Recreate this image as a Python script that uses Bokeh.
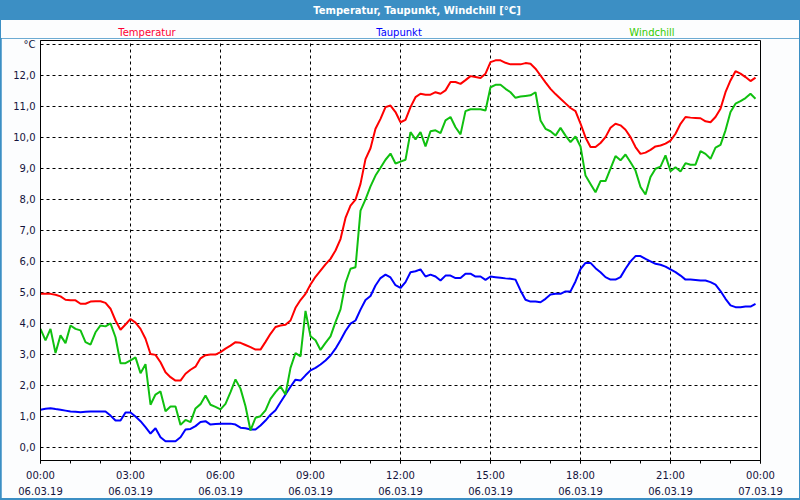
from bokeh.plotting import figure
from bokeh.models import Range1d, FixedTicker, ColumnDataSource, LinearAxis, Div
from bokeh.layouts import column
from bokeh.embed import file_html
from bokeh.resources import INLINE

# ---- data (10-minute samples, 06.03.19 00:00 .. 23:50) ----
minutes = list(range(0, 1440, 10))

temperatur = [
    4.95, 4.95, 4.95, 4.92, 4.87, 4.76, 4.74, 4.74, 4.63, 4.63, 4.70, 4.71,
    4.71, 4.66, 4.47, 4.09, 3.79, 3.96, 4.14, 4.02, 3.82, 3.50, 3.01, 2.98,
    2.74, 2.42, 2.26, 2.15, 2.15, 2.37, 2.50, 2.60, 2.87, 2.97, 2.99, 2.99,
    3.07, 3.18, 3.28, 3.39, 3.37, 3.30, 3.23, 3.15, 3.15, 3.40, 3.66, 3.88,
    3.93, 3.95, 4.09, 4.50, 4.75, 4.95, 5.25, 5.50, 5.70, 5.90, 6.08, 6.35,
    6.72, 7.40, 7.80, 7.99, 8.50, 9.30, 9.65, 10.28, 10.60, 10.98, 11.03, 10.82,
    10.49, 10.57, 10.98, 11.30, 11.41, 11.38, 11.38, 11.46, 11.41, 11.52, 11.79, 11.79,
    11.73, 11.85, 11.98, 11.95, 11.92, 12.06, 12.43, 12.49, 12.49, 12.41, 12.36, 12.36,
    12.36, 12.40, 12.38, 12.22, 12.00, 11.78, 11.57, 11.40, 11.25, 11.10, 10.95, 10.85,
    10.45, 10.00, 9.69, 9.69, 9.82, 10.01, 10.31, 10.44, 10.39, 10.25, 10.01, 9.69,
    9.47, 9.51, 9.60, 9.71, 9.74, 9.80, 9.90, 10.12, 10.44, 10.66, 10.64, 10.63,
    10.62, 10.52, 10.49, 10.66, 10.93, 11.46, 11.84, 12.14, 12.06, 11.95, 11.82, 11.93,
]

taupunkt = [
    1.21, 1.24, 1.26, 1.23, 1.21, 1.18, 1.15, 1.14, 1.13, 1.14, 1.15, 1.15,
    1.15, 1.15, 1.02, 0.86, 0.86, 1.12, 1.12, 0.99, 0.84, 0.65, 0.44, 0.61,
    0.32, 0.19, 0.19, 0.19, 0.32, 0.57, 0.59, 0.68, 0.81, 0.84, 0.73, 0.75,
    0.76, 0.76, 0.76, 0.73, 0.63, 0.61, 0.57, 0.57, 0.70, 0.86, 1.05, 1.19,
    1.45, 1.70, 1.95, 2.18, 2.15, 2.32, 2.48, 2.56, 2.67, 2.80, 2.96, 3.18,
    3.45, 3.75, 3.99, 4.09, 4.44, 4.75, 4.88, 5.22, 5.46, 5.57, 5.48, 5.23,
    5.14, 5.33, 5.65, 5.68, 5.74, 5.51, 5.57, 5.51, 5.38, 5.54, 5.54, 5.46,
    5.46, 5.60, 5.60, 5.51, 5.51, 5.40, 5.51, 5.49, 5.47, 5.45, 5.44, 5.41,
    5.06, 4.76, 4.70, 4.70, 4.68, 4.79, 4.93, 4.95, 4.95, 5.03, 5.03, 5.35,
    5.75, 5.95, 5.95, 5.78, 5.65, 5.49, 5.41, 5.41, 5.49, 5.76, 6.00, 6.17,
    6.17, 6.08, 6.00, 5.92, 5.89, 5.83, 5.74, 5.65, 5.54, 5.41, 5.41, 5.40,
    5.38, 5.38, 5.33, 5.25, 5.04, 4.79, 4.58, 4.52, 4.52, 4.54, 4.54, 4.63,
]

windchill = [
    3.82, 3.45, 3.82, 3.04, 3.61, 3.36, 3.93, 3.82, 3.77, 3.39, 3.31, 3.71,
    3.93, 3.90, 4.00, 3.55, 2.71, 2.71, 2.80, 2.90, 2.39, 2.68, 1.37, 1.70,
    1.80, 1.16, 1.31, 1.31, 0.72, 0.88, 0.81, 1.25, 1.39, 1.67, 1.37, 1.30,
    1.22, 1.40, 1.78, 2.19, 1.89, 1.32, 0.54, 0.95, 1.00, 1.19, 1.56, 1.78,
    1.96, 1.70, 2.56, 3.04, 2.93, 4.40, 3.58, 3.45, 3.14, 3.37, 3.58, 4.04,
    4.45, 5.30, 5.76, 5.81, 7.64, 8.00, 8.42, 8.77, 9.02, 9.28, 9.48, 9.16,
    9.22, 9.28, 10.17, 9.94, 10.17, 9.71, 10.20, 10.23, 10.14, 10.55, 10.66, 10.33,
    10.10, 10.85, 10.91, 10.91, 10.91, 10.87, 11.62, 11.70, 11.70, 11.57, 11.46, 11.28,
    11.32, 11.34, 11.36, 11.46, 10.55, 10.28, 10.20, 10.06, 10.31, 10.06, 9.85, 10.03,
    9.71, 8.77, 8.50, 8.23, 8.59, 8.59, 8.99, 9.40, 9.26, 9.45, 9.20, 8.93,
    8.40, 8.16, 8.72, 8.99, 9.06, 9.42, 8.91, 9.04, 8.90, 9.17, 9.12, 9.12,
    9.56, 9.47, 9.31, 9.67, 9.76, 10.23, 10.82, 11.09, 11.17, 11.27, 11.41, 11.25,
]

x_ticks = [0, 180, 360, 540, 720, 900, 1080, 1260, 1440]
x_minor_ticks = list(range(0, 1441, 60))
x_time_labels = ["00:00", "03:00", "06:00", "09:00", "12:00", "15:00", "18:00", "21:00", "00:00"]
x_date_labels = ["06.03.19"] * 8 + ["07.03.19"]
y_ticks = list(range(0, 14))
y_tick_labels = ["0,0", "1,0", "2,0", "3,0", "4,0", "5,0", "6,0", "7,0",
                 "8,0", "9,0", "10,0", "11,0", "12,0", "°C"]
series_names = ["Temperatur", "Taupunkt", "Windchill"]
title_text = "Temperatur, Taupunkt, Windchill [°C]"

# ---- style ----
BG = "#fcfdfe"
BAR = "#3c8fc4"
FONT = "DejaVu Sans"
LABEL_COLOR = "#14143c"
LINE_COLORS = ["#ff0000", "#0000ff", "#10c010"]
NAME_COLORS = ["#ff0033", "#0000ff", "#33cc00"]
NAME_CENTERS = [146, 398, 651]   # horizontal centres of the series names (px)
TITLE_CENTER = 416

# ---- header: title bar + coloured series names ----
parts = [
    f'<div style="position:relative;width:798px;height:38px;overflow:visible;background:{BG};'
    f"font-family:'{FONT}',sans-serif;font-size:10px;\">",
    f'<div style="position:absolute;left:-1px;top:0px;width:800px;height:20px;background:{BAR};"></div>',
    f'<div style="position:absolute;left:{TITLE_CENTER - 200}px;top:0.5px;width:400px;height:20px;'
    f'line-height:20px;text-align:center;color:white;font-weight:bold;white-space:nowrap;">'
    f'{title_text}</div>',
]
for cx, name, col in zip(NAME_CENTERS, series_names, NAME_COLORS):
    parts.append(
        f'<div style="position:absolute;left:{cx - 60}px;top:26.5px;width:120px;line-height:12px;'
        f'text-align:center;color:{col};white-space:nowrap;">{name}</div>')
parts.append('</div>')
header = Div(text="".join(parts), width=798, height=38, margin=(0, 1, 0, 1))

# ---- main chart ----
src = ColumnDataSource(data=dict(m=minutes, t=temperatur, d=taupunkt, w=windchill))

p = figure(width=798, height=460, x_range=Range1d(0, 1440), y_range=Range1d(-0.43, 13.13),
           toolbar_location=None, output_backend="svg",
           min_border_left=39, min_border_right=39, min_border_top=2, min_border_bottom=38,
           margin=(0, 1, 2, 1))
p.background_fill_color = "white"
p.border_fill_color = BG
p.outline_line_color = "black"
p.outline_line_width = 1

# x axis (times)
xa = p.xaxis[0]
xa.ticker = FixedTicker(ticks=x_ticks, minor_ticks=x_minor_ticks)
xa.major_label_overrides = {t: s for t, s in zip(x_ticks, x_time_labels)}
xa.major_tick_out = 3
xa.major_tick_in = 0
xa.minor_tick_out = 3
xa.minor_tick_in = 0
xa.major_tick_line_color = "black"
xa.minor_tick_line_color = "black"
xa.axis_line_color = "black"
xa.major_label_standoff = 6
xa.major_label_text_font = FONT
xa.major_label_text_font_size = "10px"
xa.major_label_text_color = LABEL_COLOR

# second x axis (dates)
xd = LinearAxis(ticker=FixedTicker(ticks=x_ticks),
                major_label_overrides={t: s for t, s in zip(x_ticks, x_date_labels)})
xd.axis_line_color = None
xd.major_tick_line_color = None
xd.minor_tick_line_color = None
xd.major_tick_out = 0
xd.major_tick_in = 0
xd.major_label_standoff = 3
xd.major_label_text_font = FONT
xd.major_label_text_font_size = "10px"
xd.major_label_text_color = LABEL_COLOR
p.add_layout(xd, "below")

# y axis
ya = p.yaxis[0]
ya.ticker = FixedTicker(ticks=y_ticks)
ya.major_label_overrides = {t: s for t, s in zip(y_ticks, y_tick_labels)}
ya.major_tick_out = 0
ya.major_tick_in = 0
ya.minor_tick_line_color = None
ya.axis_line_color = "black"
ya.major_label_standoff = 5
ya.major_label_text_font = FONT
ya.major_label_text_font_size = "10px"
ya.major_label_text_color = LABEL_COLOR

for g in (p.xgrid[0], p.ygrid[0]):
    g.grid_line_color = "black"
    g.grid_line_dash = "3 3"
    g.grid_line_width = 1
    g.grid_line_alpha = 1.0

p.line("m", "t", source=src, line_color=LINE_COLORS[0], line_width=2)
p.line("m", "d", source=src, line_color=LINE_COLORS[1], line_width=2)
p.line("m", "w", source=src, line_color=LINE_COLORS[2], line_width=2)

layout = column(header, p, spacing=0, styles={"background-color": BAR})

open("out.html", "w").write(file_html(layout, INLINE))
